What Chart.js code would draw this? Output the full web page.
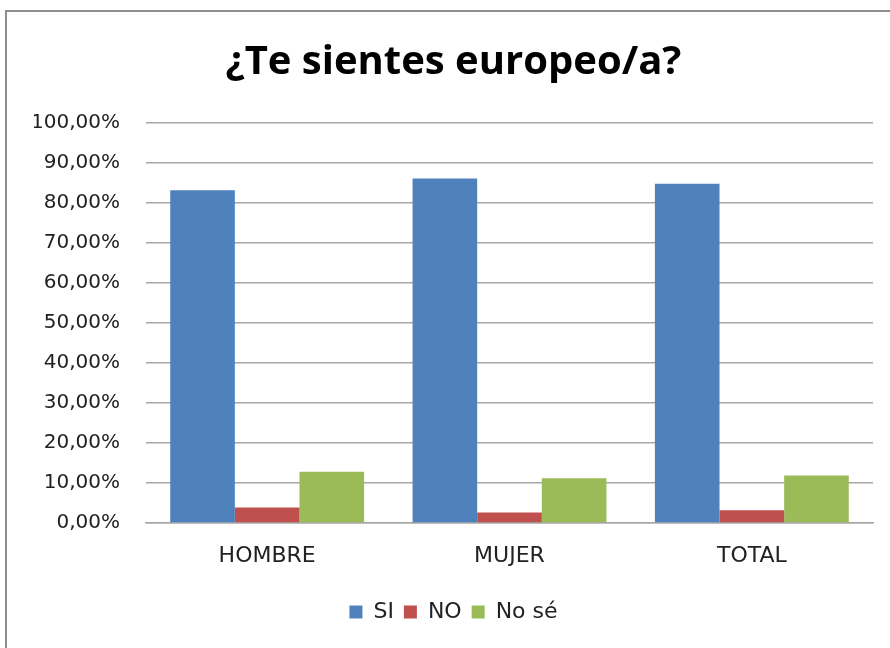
<!DOCTYPE html>
<html>
<head>
<meta charset="utf-8">
<script src="https://cdn.jsdelivr.net/npm/chart.js@4.4.1/dist/chart.umd.min.js"></script>
<style>
  html,body{ margin:0; padding:0; background:#fff; }
  body{ width:890px; height:648px; position:relative; overflow:hidden; }
  #frame{ position:absolute; left:5px; top:10px; width:900px; height:700px; border:2px solid #8e8e8e; box-sizing:border-box; }
  #wrap{ position:absolute; left:0; top:0; width:890px; height:648px; }
</style>
</head>
<body>
<div id="frame"></div>
<div id="wrap"><canvas id="chart" width="890" height="648"></canvas></div>
<script>
// values (percent)
const CATEGORIES = ['HOMBRE', 'MUJER', 'TOTAL'];
const SI_VALUES  = [83.2, 86.1, 84.8];
const NO_VALUES  = [3.9, 2.6, 3.2];
const NOSE_VALUES = [12.8, 11.2, 11.9];
const SERIES_NAMES = ['SI', 'NO', 'No sé'];
const COLORS = ['#4F81BD', '#C0504D', '#9BBB59'];

const TICK_FONT = { family:"'DejaVu Sans', sans-serif", size:20 };
const CAT_FONT = { family:"'DejaVu Sans', sans-serif", size:22 };
const GRID = '#a8a8a8';

const fmtPct = v => v.toFixed(2).replace('.', ',') + '%';

new Chart(document.getElementById('chart'), {
  type:'bar',
  data:{
    labels: CATEGORIES,
    datasets:[
      { label:SERIES_NAMES[0], data:SI_VALUES,   backgroundColor:COLORS[0] },
      { label:SERIES_NAMES[1], data:NO_VALUES,   backgroundColor:COLORS[1] },
      { label:SERIES_NAMES[2], data:NOSE_VALUES, backgroundColor:COLORS[2] },
    ]
  },
  options:{
    responsive:false, animation:false,
    layout:{ padding:{ top:0, right:17, bottom:15, left:34 } },
    datasets:{ bar:{ categoryPercentage:0.8, barPercentage:1.0, borderWidth:0 } },
    plugins:{
      title:{
        display:true, text:'¿Te sientes europeo/a?', color:'#000',
        font:{ family:"'Open Sans', sans-serif", size:40, weight:'bold' },
        padding:{ top:39, bottom:36 }
      },
      legend:{
        position:'bottom',
        labels:{ color:'#222', font:CAT_FONT, boxWidth:13, boxHeight:13, padding:10 }
      },
      tooltip:{ enabled:false }
    },
    scales:{
      x:{
        grid:{ display:false, drawTicks:false },
        border:{ color:GRID, width:1.5 },
        ticks:{ color:'#222', font:CAT_FONT, padding:20, maxRotation:0 },
        afterFit: s => { s.height = 68; }
      },
      y:{
        min:0, max:100,
        grid:{ color:GRID, lineWidth:1.5, drawTicks:false },
        border:{ display:false },
        ticks:{ stepSize:10, color:'#222', font:TICK_FONT, padding:26, callback: v => fmtPct(v) },
        afterFit: s => { s.width = 112; }
      }
    }
  }
});
</script>
</body>
</html>
